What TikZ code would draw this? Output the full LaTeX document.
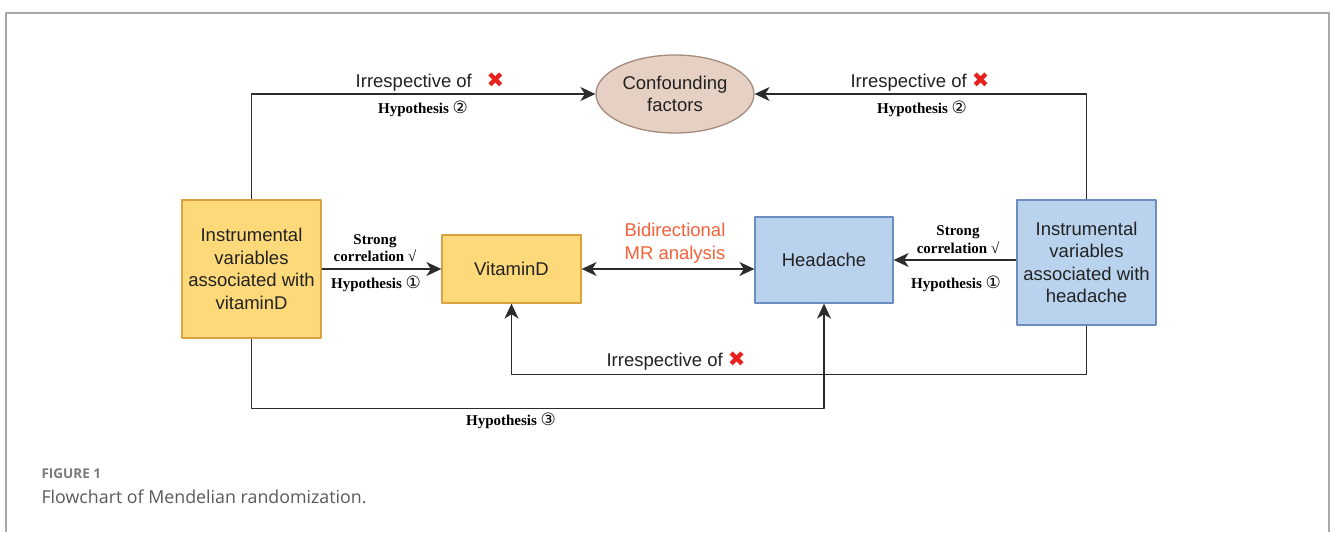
\documentclass[tikz,border=0pt]{standalone}
\usepackage{fontspec}
\setmainfont{Liberation Sans}
\newfontfamily\timesfont{Liberation Serif}
\newfontfamily\symfont{DejaVu Sans}
\newfontfamily\capfont{Open Sans}
\usetikzlibrary{arrows.meta,calc,positioning,shapes.geometric}
\definecolor{mrYellow}{HTML}{FDD97A}
\definecolor{mrYellowLine}{HTML}{D9A13F}
\definecolor{mrBlue}{HTML}{B9D3EE}
\definecolor{mrBlueLine}{HTML}{6C8EBF}
\definecolor{mrRose}{HTML}{E6CFC3}
\definecolor{mrRoseLine}{HTML}{A38B7E}
\definecolor{mrInk}{HTML}{222222}
\definecolor{mrWire}{HTML}{2B2B2B}
\definecolor{mrOrange}{HTML}{F4623A}
\definecolor{mrRed}{HTML}{E8201E}
\definecolor{mrFrame}{HTML}{A8A8A8}
\definecolor{mrCaption}{HTML}{5A5A5A}
\newcommand\xmark{{\symfont\fontsize{21}{16}\selectfont\color{mrRed}✖}}
\newcommand\circnum[1]{{\symfont\mdseries\fontsize{17}{16}\selectfont #1}}

\begin{document}
\begin{tikzpicture}[x=1pt,y=-1pt,>={Stealth[length=15pt,width=14pt,inset=4.5pt]},line join=round]
\path[fill=white] (0,0) rectangle (1330,532);
\draw[mrFrame,line width=1.6pt] (6,532) -- (6,13) -- (1329,13) -- (1329,532);
\tikzset{boxfont/.style={font=\fontsize{18.5}{22.5}\selectfont,text=mrInk,align=center},ybox/.style={boxfont,draw=mrYellowLine,fill=mrYellow,line width=1.3pt},bbox/.style={boxfont,draw=mrBlueLine,fill=mrBlue,line width=1.3pt},wire/.style={draw=mrWire,line width=1.4pt},hyp/.style={font=\timesfont\bfseries\fontsize{15}{17.5}\selectfont,text=black,align=center},irr/.style={font=\fontsize{18.5}{22}\selectfont,text=mrInk}}
% boxes
\node[ybox,minimum width=139,minimum height=138] (ivd) at (251.5,269) {Instrumental\\variables\\associated with\\vitaminD};
\node[ybox,minimum width=139,minimum height=68] (vitd) at (511.5,269) {VitaminD};
\node[bbox,minimum width=138,minimum height=86] (head) at (824,260) {Headache};
\node[bbox,minimum width=139,minimum height=125] (ivh) at (1086.5,262.5) {Instrumental\\variables\\associated with\\headache};
\node[ellipse,draw=mrRoseLine,fill=mrRose,line width=1.3pt,boxfont,minimum width=158,minimum height=78,inner sep=0pt] (conf) at (675,94) {Confounding\\factors};
% connectors
\draw[wire,->] (ivd.north) |- (conf.west);
\draw[wire,->] (ivh.north) |- (conf.east);
\draw[wire,->] (ivd) -- (vitd);
\draw[wire,<->] (vitd.east) -- (vitd.east -| head.west);
\draw[wire,->] (ivh.west |- head.east) -- (head.east);
\draw[wire,->] (ivh.south) -- ++(0,49) -| (vitd.south);
\draw[wire,->] (ivd.south) -- ++(0,70) -| (head.south);
% labels
\node[irr] (irrL) at (430,82) {Irrespective of\hspace{0.8em}\xmark};
\node[hyp] (hypL) at (423,109) {Hypothesis \circnum{②}};
\node[irr] (irrR) at (920,82) {Irrespective of \xmark};
\node[hyp] (hypR) at (922,109) {Hypothesis \circnum{②}};
\node[hyp] (strL) at (375,248) {Strong\\correlation √};
\node[hyp] (hypOneL) at (376,284) {Hypothesis \circnum{①}};
\node[hyp] (strR) at (958,239.5) {Strong\\correlation √};
\node[hyp] (hypOneR) at (956,284) {Hypothesis \circnum{①}};
\node[irr,text=mrOrange,align=center,font=\fontsize{18.5}{22.5}\selectfont] (bidir) at (675,243) {Bidirectional\\MR analysis};
\node[irr] (irrB) at (676,361) {Irrespective of \xmark};
\node[hyp] (hypThree) at (511,421) {Hypothesis \circnum{③}};
% caption
\node[anchor=west,font=\capfont\bfseries\fontsize{13.5}{15}\selectfont,text=mrCaption!80] (figno) at (38,474) {FIGURE 1};
\node[anchor=west,font=\capfont\fontsize{17.8}{21}\selectfont,text=mrCaption] (figcap) at (38,497) {Flowchart of Mendelian randomization.};
\end{tikzpicture}
\end{document}
